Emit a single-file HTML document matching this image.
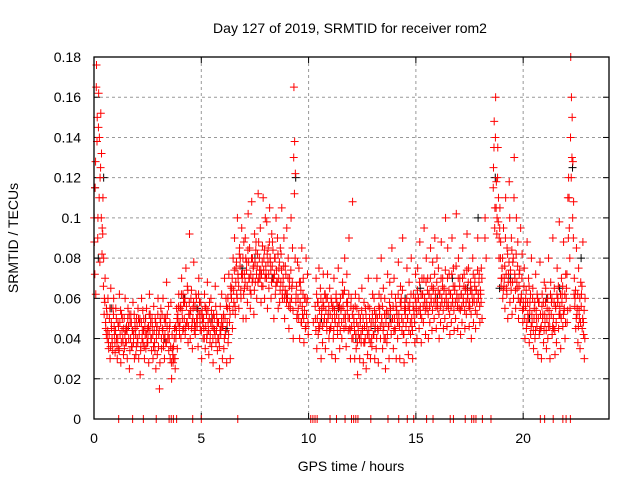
<!DOCTYPE html>
<html><head><meta charset="utf-8"><style>
body{margin:0;background:#fff;}
svg{display:block;font-family:"Liberation Sans",sans-serif;}
</style></head><body>
<svg id="chart" width="640" height="480" viewBox="0 0 640 480">
<rect width="640" height="480" fill="#fff"/>
<g id="grid"></g>
<g id="axes"></g>
<g id="marks"></g>
<rect x="94" y="57" width="515" height="362" fill="none" stroke="#000" stroke-width="1.3"/>
<text x="350" y="33" font-size="14" text-anchor="middle" fill="#000">Day 127 of 2019, SRMTID for receiver rom2</text>
<text x="351" y="471" font-size="14" text-anchor="middle" fill="#000">GPS time / hours</text>
<text transform="translate(18,238) rotate(-90)" font-size="14" text-anchor="middle" fill="#000">SRMTID / TECUs</text>
</svg>
<script>
const xTicks=[0,5,10,15,20];
const yTicks=[0,0.02,0.04,0.06,0.08,0.1,0.12,0.14,0.16,0.18];
const yTickLabels=["0","0.02","0.04","0.06","0.08","0.1","0.12","0.14","0.16","0.18"];
const binStart=0, binStep=0.1;
// red series: per 0.1 h bin, values in 1e-3 TECU
const redBins=[
[88,115,62],[176,150,100],[162,140,120],[152,132,95],[110,80,60],[70,45,55],[40,60,35],[50,30,65],[45,38,55],[60,42,33],
[55,40,30],[48,35,62],[42,28,52],[50,38,45],[35,60,44],[46,30,55],[40,25,48],[52,36,44],[58,42,30],[45,32,50],
[40,55,30],[48,22,36],[60,44,38],[50,30,42],[35,55,45],[42,28,62],[52,40,34],[46,30,56],[38,50,25],[44,32,60],
[42,15,50],[55,35,45],[60,40,30],[48,38,68],[52,42,34],[45,30,58],[20,35,28],[30,45,25],[40,55,35],[48,62,42],
[55,40,70],[50,62,45],[58,42,75],[48,66,38],[52,92,40],[60,45,35],[55,78,48],[42,62,50],[50,36,70],[58,44,52],
[30,50,40],[45,62,35],[55,40,68],[48,32,58],[42,60,36],[50,28,45],[44,66,38],[52,34,48],[40,25,56],[46,62,30],
[50,35,70],[42,60,28],[55,38,72],[48,30,62],[65,45,80],[58,90,52],[75,62,100],[70,55,85],[80,60,95],[72,50,88],
[65,90,50],[78,58,102],[70,85,55],[62,108,80],[75,52,92],[68,88,60],[82,112,70],[74,95,58],[66,86,110],[80,60,100],
[72,98,55],[85,65,105],[78,60,92],[88,70,50],[80,62,100],[68,90,55],[75,58,85],[82,105,60],[70,90,50],[76,62,95],
[60,80,45],[70,55,100],[65,85,40],[165,138,122],[62,50,78],[55,75,40],[68,48,85],[52,70,38],[60,45,80],[58,72,42],
[],[],[],[50,70,35],[58,42,75],[45,65,30],[55,38,72],[48,62,35],[60,44,72],[52,40,65],
[45,60,32],[55,40,70],[50,30,62],[58,42,75],[48,35,60],[55,40,68],[62,45,80],[50,36,72],[58,44,90],[45,30,60],
[40,108,55],[48,30,62],[35,55,22],[42,60,30],[50,38,65],[45,28,58],[38,55,25],[46,32,70],[40,55,30],[48,36,62],
[42,60,30],[50,35,70],[45,28,62],[55,40,80],[48,35,65],[40,60,25],[52,38,72],[46,30,68],[55,42,85],[50,35,70],
[45,60,30],[52,40,78],[48,30,66],[60,44,90],[42,28,58],[55,38,75],[50,32,68],[58,42,80],[46,30,62],[52,38,72],
[55,40,75],[60,45,88],[52,38,70],[62,48,95],[58,42,80],[55,70,40],[62,48,85],[58,44,78],[65,50,90],[60,45,80],
[55,75,40],[62,48,88],[58,70,45],[65,50,100],[60,46,85],[55,72,42],[62,48,90],[58,75,44],[66,50,102],[60,45,80],
[55,70,42],[62,48,85],[58,72,45],[65,52,92],[60,75,46],[55,68,40],[62,80,48],[58,70,45],[64,52,90],[60,72,48],
[62,75,50],[],[100,80],[],[],[],[125,148,105],[160,118,100],[135,110,90],[105,88,70],
[75,60,95],[70,55,110],[65,85,50],[72,118,58],[68,90,52],[78,60,130],[70,55,100],[65,88,50],[72,58,95],[62,82,48],
[55,75,40],[60,45,88],[52,70,38],[58,42,80],[48,65,35],[55,40,72],[50,62,32],[58,42,78],[45,30,62],[52,38,68],
[48,65,35],[55,40,80],[50,30,68],[58,42,90],[45,65,32],[55,38,75],[60,45,98],[52,35,70],[62,46,88],[55,40,72],
[65,48,110],[120,95,55],[180,160,150],[128,108,70],[60,45,85],[55,38,75],[50,35,68],[62,45,88],[42,30,60],[]
];
// second red pass (denser core), per 0.1 h bin, 1e-3 TECU
const redBins2=[
[100,72,128],[165,138,90],[145,110,78],[125,100,82],[92,66,52],[58,48,42],[52,44,38],[42,55,36],[48,40,34],[52,46,38],
[44,50,36],[40,46,34],[48,54,38],[44,40,32],[50,42,38],[38,44,50],[46,52,34],[40,48,36],[44,38,52],[48,42,36],
[46,38,50],[42,50,34],[48,40,54],[44,36,46],[50,42,38],[38,46,52],[44,48,40],[50,42,36],[44,34,48],[40,46,52],
[36,44,28],[48,40,52],[44,36,50],[42,50,38],[46,40,56],[40,48,36],[28,42,32],[36,40,30],[46,44,50],[52,56,46],
[48,56,62],[54,44,58],[50,60,46],[56,48,64],[46,58,52],[54,64,48],[50,58,44],[56,46,60],[46,54,62],[52,48,58],
[44,54,48],[50,40,56],[46,52,42],[54,44,50],[38,48,54],[46,40,52],[50,42,56],[44,48,40],[48,36,44],[42,50,46],
[46,52,40],[50,44,56],[48,60,42],[56,52,66],[60,70,54],[64,74,56],[68,78,60],[72,66,82],[76,64,72],[70,80,62],
[72,68,80],[74,66,84],[78,70,64],[72,80,68],[70,76,64],[78,84,72],[76,68,88],[80,70,74],[72,78,66],[74,84,70],
[76,70,82],[78,72,88],[80,74,68],[76,84,70],[72,80,66],[74,68,82],[70,78,64],[68,74,62],[66,76,60],[64,72,58],
[62,70,56],[66,58,74],[60,68,54],[130,112,80],[58,66,52],[60,50,68],[58,64,48],[56,62,50],[54,60,46],[52,60,48],
[],[],[48],[56,44,62],[50,58,46],[54,48,60],[52,46,58],[56,50,62],[54,48,60],[50,56,44],
[52,46,58],[50,56,44],[54,48,60],[52,46,56],[50,56,44],[54,48,62],[56,50,64],[52,46,58],[54,50,62],[50,44,56],
[46,52,40],[50,44,56],[42,48,38],[46,52,40],[48,42,54],[44,50,38],[46,40,52],[48,42,56],[44,50,38],[46,40,52],
[48,42,54],[46,52,40],[50,44,56],[52,46,60],[50,56,44],[46,52,40],[48,54,42],[52,46,58],[54,48,62],[50,56,44],
[50,44,56],[54,48,62],[52,46,58],[56,50,64],[48,42,54],[52,46,60],[50,56,44],[54,48,62],[50,44,56],[54,48,60],
[58,52,64],[60,54,68],[56,62,50],[62,56,70],[60,54,68],[58,64,52],[62,56,70],[60,66,54],[64,58,72],[62,56,68],
[58,64,52],[62,56,70],[60,66,54],[64,58,74],[62,56,70],[58,64,52],[62,56,72],[60,66,54],[64,58,76],[62,56,70],
[60,66,54],[62,56,70],[60,66,54],[64,58,74],[62,68,56],[58,64,52],[64,58,72],[60,66,54],[64,58,74],[62,68,56],
[64,58,70],[],[90],[],[],[],[115,135,95],[140,105,92],[120,98,80],[95,80,66],
[70,80,64],[66,76,90],[72,62,82],[68,78,100],[74,64,84],[68,80,110],[72,64,82],[68,76,60],[66,74,58],[60,70,54],
[58,66,50],[56,64,48],[58,50,66],[54,62,46],[52,60,44],[50,58,44],[54,46,60],[50,58,44],[52,46,56],[50,58,44],
[52,58,44],[50,60,46],[54,46,62],[52,60,46],[50,58,44],[56,48,62],[58,66,52],[56,62,50],[58,66,52],[54,62,48],
[60,72,54],[90,110,80],[140,120,130],[100,90,62],[56,64,50],[52,62,46],[54,60,48],[56,66,50],[48,54,40],[]
];
const blackHours=[0.05,0.2,0.45,0.8,1.5,2.4,3.3,4.2,4.8,5.5,6.2,6.9,7.5,8.3,9.0,9.4,10.6,11.4,12.2,13.1,13.8,14.5,15.2,16.0,16.7,17.4,17.9,18.7,18.9,19.4,20.3,21.1,21.7,22.3,22.7];
const blackTec=[0.115,0.08,0.12,0.055,0.045,0.05,0.04,0.06,0.055,0.05,0.045,0.075,0.08,0.07,0.06,0.12,0.05,0.055,0.04,0.045,0.05,0.06,0.065,0.06,0.07,0.065,0.1,0.12,0.065,0.07,0.05,0.06,0.065,0.125,0.08];
const zeroHours=[1.15,1.8,2.3,2.9,3.5,3.6,3.7,3.85,4.6,5.0,6.7,10.1,10.2,10.3,10.4,11.0,11.3,11.7,12.0,12.1,12.2,12.3,12.9,13.7,14.2,14.6,14.9,15.5,15.8,16.6,16.75,17.3,17.6,17.7,17.8,18.1,18.5,20.8,21.0,21.4,21.85,22.0,22.2];
const X0=94,X1=609,Y0=419,Y1=57,XMAX=24,YMAX=0.18;
function xs(h){return X0+(X1-X0)*h/XMAX;}
function ys(v){return Y0-(Y0-Y1)*v/YMAX;}
const NS="http://www.w3.org/2000/svg";
function mk(tag,attrs,parent){const e=document.createElementNS(NS,tag);for(const k in attrs)e.setAttribute(k,attrs[k]);parent.appendChild(e);return e;}
const grid=document.getElementById('grid'),axes=document.getElementById('axes'),marks=document.getElementById('marks');
xTicks.forEach(t=>{
  const x=xs(t);
  if(t>0){const g=mk('line',{x1:x,x2:x,y1:Y1,y2:Y0,stroke:'#999','stroke-dasharray':'3,3'},grid);
  
  }
  mk('line',{x1:x,x2:x,y1:Y0,y2:Y0-6,stroke:'#000'},axes);
  mk('line',{x1:x,x2:x,y1:Y1,y2:Y1+6,stroke:'#000'},axes);
  const l=mk('text',{x:x,y:Y0+24,'font-size':14,'text-anchor':'middle',fill:'#000'},axes);
  l.textContent=String(t);
  
  
});
yTicks.forEach((t,i)=>{
  const y=ys(t);
  if(t>0&&t<YMAX){const g=mk('line',{x1:X0,x2:X1,y1:y,y2:y,stroke:'#999','stroke-dasharray':'3,3'},grid);
  
  }
  mk('line',{x1:X0,x2:X0+6,y1:y,y2:y,stroke:'#000'},axes);
  mk('line',{x1:X1,x2:X1-6,y1:y,y2:y,stroke:'#000'},axes);
  const l=mk('text',{x:X0-13,y:y+5,'font-size':14,'text-anchor':'end',fill:'#000'},axes);
  l.textContent=yTickLabels[i];
  
  
});
function plus(h,v,color,name){
  const x=xs(h),y=ys(v);
  const p=mk('path',{d:`M${x-4},${y}H${x+4}M${x},${y-4}V${y+4}`,stroke:color,'stroke-width':1,fill:'none'},marks);
  
  
}
blackHours.forEach((h,i)=>plus(h,blackTec[i],'#000','black-point'));
function drawBins(bins,offset){
  bins.forEach((vals,i)=>{
    vals.forEach((v,j)=>{
      const h=binStart+i*binStep+((j+offset)/vals.length)*binStep;
      plus(h,v/1000,'#f00','red-point');
    });
  });
}
drawBins(redBins,0.5);
drawBins(redBins2,0.2);
zeroHours.forEach(h=>plus(h,0,'#f00','zero-point'));
</script>
</body></html>
